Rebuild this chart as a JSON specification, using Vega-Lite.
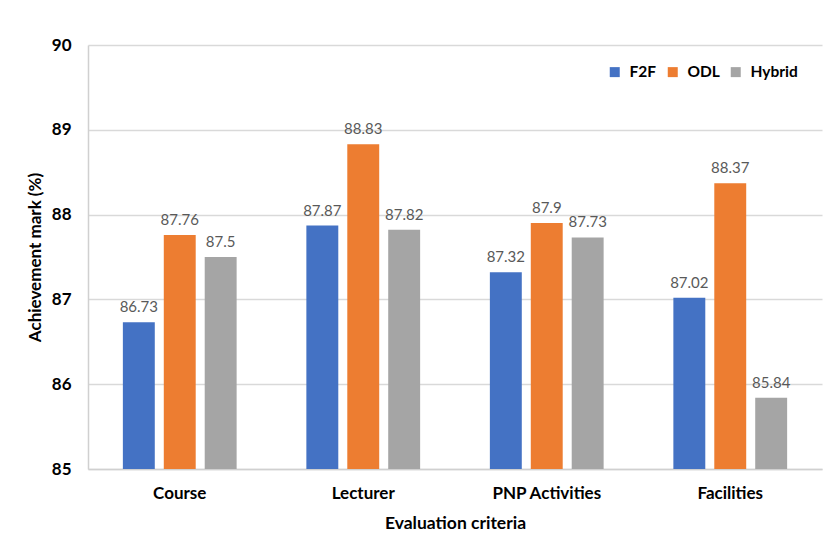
{
  "$schema": "https://vega.github.io/schema/vega-lite/v6.json",
  "width": 734,
  "height": 424,
  "autosize": {"type": "none"},
  "padding": {"left": 88, "top": 45, "right": 6, "bottom": 70},
  "background": "white",
  "data": {
    "values": [
      {"criteria": "Course", "mode": "F2F", "mark": 86.73},
      {"criteria": "Course", "mode": "ODL", "mark": 87.76},
      {"criteria": "Course", "mode": "Hybrid", "mark": 87.5},
      {"criteria": "Lecturer", "mode": "F2F", "mark": 87.87},
      {"criteria": "Lecturer", "mode": "ODL", "mark": 88.83},
      {"criteria": "Lecturer", "mode": "Hybrid", "mark": 87.82},
      {"criteria": "PNP Activities", "mode": "F2F", "mark": 87.32},
      {"criteria": "PNP Activities", "mode": "ODL", "mark": 87.9},
      {"criteria": "PNP Activities", "mode": "Hybrid", "mark": 87.73},
      {"criteria": "Facilities", "mode": "F2F", "mark": 87.02},
      {"criteria": "Facilities", "mode": "ODL", "mark": 88.37},
      {"criteria": "Facilities", "mode": "Hybrid", "mark": 85.84}
    ]
  },
  "encoding": {
    "x": {
      "field": "criteria", "type": "nominal", "sort": null,
      "scale": {"paddingInner": 0.38, "paddingOuter": 0.19},
      "axis": {
        "title": "Evaluation criteria", "labelAngle": 0, "ticks": false,
        "labelPadding": 16, "titlePadding": 13,
        "labelFont": "Lato", "labelFontSize": 17, "labelFontWeight": "bold", "labelColor": "#000000",
        "titleFont": "Lato", "titleFontSize": 17.5, "titleFontWeight": "bold", "titleColor": "#000000",
        "domainColor": "#D0D0D0", "domainWidth": 1.5
      }
    },
    "xOffset": {
      "field": "mode", "type": "nominal", "sort": ["F2F", "ODL", "Hybrid"],
      "scale": {"paddingInner": 0.22, "paddingOuter": 0}
    },
    "y": {
      "field": "mark", "type": "quantitative",
      "scale": {"domain": [85, 90], "zero": false, "nice": false},
      "axis": {
        "title": "Achievement mark (%)", "values": [85, 86, 87, 88, 89, 90],
        "labelOverlap": false, "grid": true,
        "ticks": false, "labelPadding": 17, "titleX": -44, "titleY": 212,
        "labelFont": "Lato", "labelFontSize": 17, "labelFontWeight": "bold", "labelColor": "#000000",
        "titleFont": "Lato", "titleFontSize": 17, "titleFontWeight": "bold", "titleColor": "#000000",
        "gridColor": "#D9D9D9", "gridWidth": 1.3,
        "domainColor": "#D0D0D0", "domainWidth": 1.5
      }
    }
  },
  "layer": [
    {
      "mark": {"type": "bar"},
      "encoding": {
        "y2": {"datum": 85},
        "color": {
          "field": "mode", "type": "nominal",
          "sort": ["F2F", "ODL", "Hybrid"],
          "scale": {"domain": ["F2F", "ODL", "Hybrid"], "range": ["#4472C4", "#ED7D31", "#A5A5A5"]},
          "legend": {
            "title": null, "orient": "none", "direction": "horizontal",
            "legendX": 519, "legendY": 19,
            "symbolType": "square", "symbolSize": 100, "symbolStrokeWidth": 0,
            "labelFont": "Lato", "labelFontSize": 15.5, "labelFontWeight": "bold", "labelColor": "#000000",
            "columnPadding": 8, "labelOffset": 7
          }
        }
      }
    },
    {
      "mark": {"type": "text", "baseline": "bottom", "dy": -7, "font": "Lato", "fontSize": 15, "color": "#595959"},
      "encoding": {
        "text": {"field": "mark", "type": "quantitative", "format": ".2~f"}
      }
    }
  ],
  "config": {"view": {"stroke": null}}
}
